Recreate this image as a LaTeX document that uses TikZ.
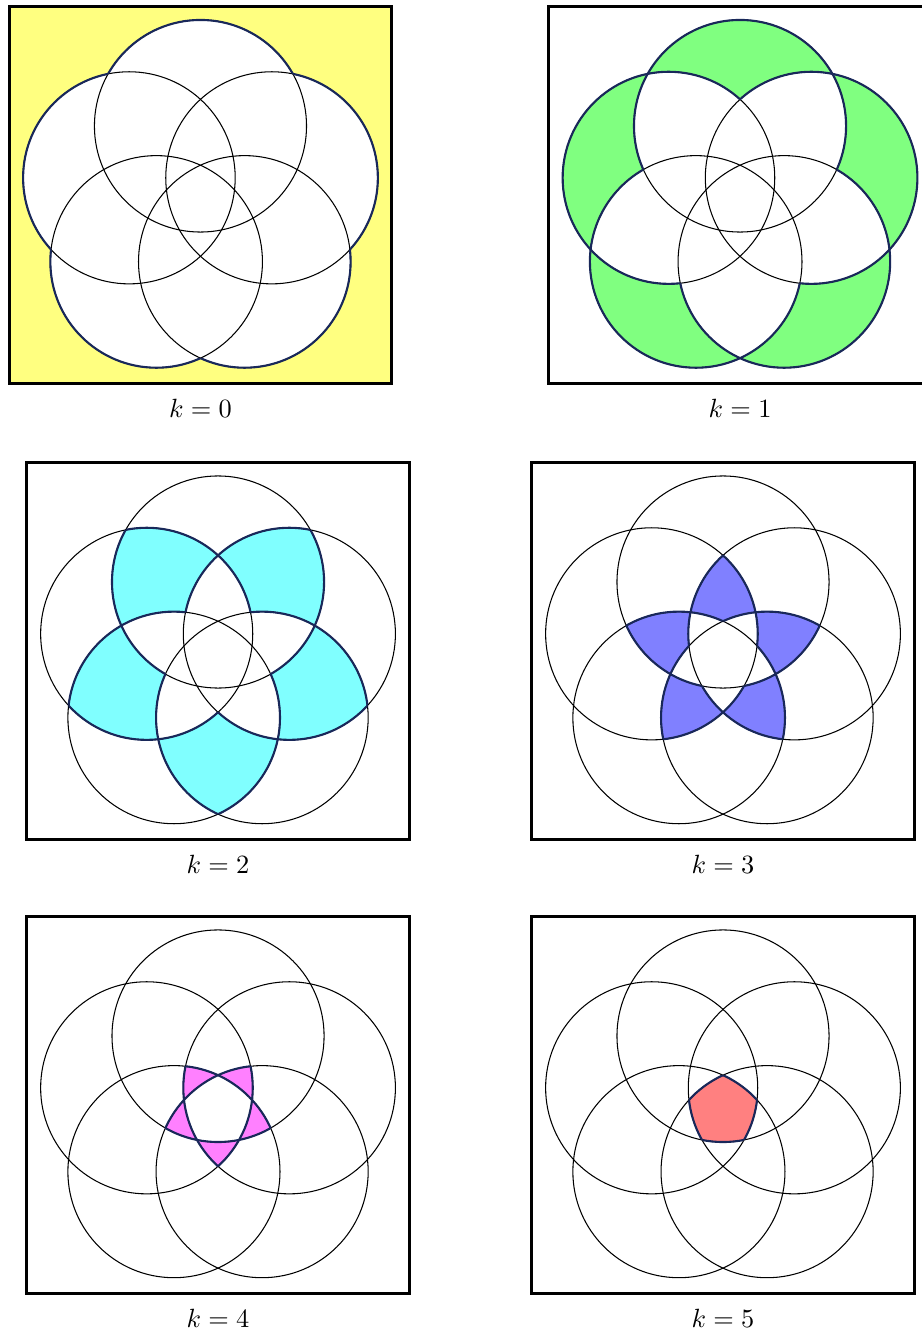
\documentclass[tikz,border=0pt]{standalone}
\usepackage{xcolor}
\usepackage{tikz}
\definecolor{rimblue}{RGB}{25,40,90}
\definecolor{fillzero}{RGB}{255,255,128}
\definecolor{fillone}{RGB}{128,255,128}
\definecolor{filltwo}{RGB}{128,255,255}
\definecolor{fillthree}{RGB}{128,128,255}
\definecolor{fillfour}{RGB}{255,128,255}
\definecolor{fillfive}{RGB}{255,128,128}

\newcommand{\RR}{1}
\newcommand{\rr}{1.414}
% clip to the outside of circle #1
\newcommand{\clipout}[1]{\clip (-4,-4) -- (-4,4) -- (4,4) -- (4,-4) -- cycle
  (#1) ++(\rr,0) arc[start angle=0, end angle=360, radius=\rr];}

% one panel: #1 name, #2 centre, #3 k, #4 fill colour
\newcommand{\kpanel}[4]{%
\begin{scope}[shift={#2}]
  \foreach \i in {0,...,4} \coordinate (#1c\i) at (90+72*\i:\RR);
  \fill[white] (-2.55,-2.43) rectangle (2.55,2.59);
  % cells inside exactly k circles
  \foreach \s in {0,...,31} {
    \pgfmathtruncatemacro\nbits{mod(\s,2)+mod(floor(\s/2),2)+mod(floor(\s/4),2)+mod(floor(\s/8),2)+mod(floor(\s/16),2)}
    \ifnum\nbits=#3
      \begin{scope}
        \foreach \j in {0,...,4} {
          \pgfmathtruncatemacro\bj{mod(floor(\s/2^\j),2)}
          \ifnum\bj=1 \clip (#1c\j) circle (\rr); \else \clipout{#1c\j} \fi
        }
        \fill[#4] (-2.55,-2.43) rectangle (2.55,2.59);
      \end{scope}
    \fi
  }
  \foreach \i in {0,...,4} \draw[ring] (#1c\i) circle (\rr);
  % borders of those cells
  \foreach \i in {0,...,4} {
    \foreach \s in {0,...,31} {
      \pgfmathtruncatemacro\nbits{mod(\s,2)+mod(floor(\s/2),2)+mod(floor(\s/4),2)+mod(floor(\s/8),2)+mod(floor(\s/16),2)}
      \pgfmathtruncatemacro\okflag{and(mod(floor(\s/2^\i),2)==0, and(\nbits>=#3-1, \nbits<=#3))}
      \ifnum\okflag=1
        \begin{scope}
          \foreach \j in {0,...,4} {
            \ifnum\j=\i \else
              \pgfmathtruncatemacro\bj{mod(floor(\s/2^\j),2)}
              \ifnum\bj=1 \clip (#1c\j) circle (\rr); \else \clipout{#1c\j} \fi
            \fi
          }
          \draw[rim] (#1c\i) circle (\rr);
        \end{scope}
      \fi
    }
  }
  \draw[frame] (-2.55,-2.43) rectangle (2.55,2.59);
  \node (#1lab) at (0,-2.76) {$k=#3$};
\end{scope}}

\begin{document}
\begin{tikzpicture}[
  frame/.style={draw, line width=1.1pt},
  ring/.style={draw, line width=0.4pt},
  rim/.style={draw=rimblue, line width=0.8pt},
]
\useasboundingbox (0,0) rectangle (12.293,-17.76);
\kpanel{pa}{(2.673,-2.68)}{0}{fillzero}
\kpanel{pb}{(9.867,-2.68)}{1}{fillone}
\kpanel{pc}{(2.907,-8.76)}{2}{filltwo}
\kpanel{pd}{(9.64,-8.76)}{3}{fillthree}
\kpanel{pe}{(2.907,-14.813)}{4}{fillfour}
\kpanel{pf}{(9.64,-14.813)}{5}{fillfive}
\end{tikzpicture}
\end{document}
